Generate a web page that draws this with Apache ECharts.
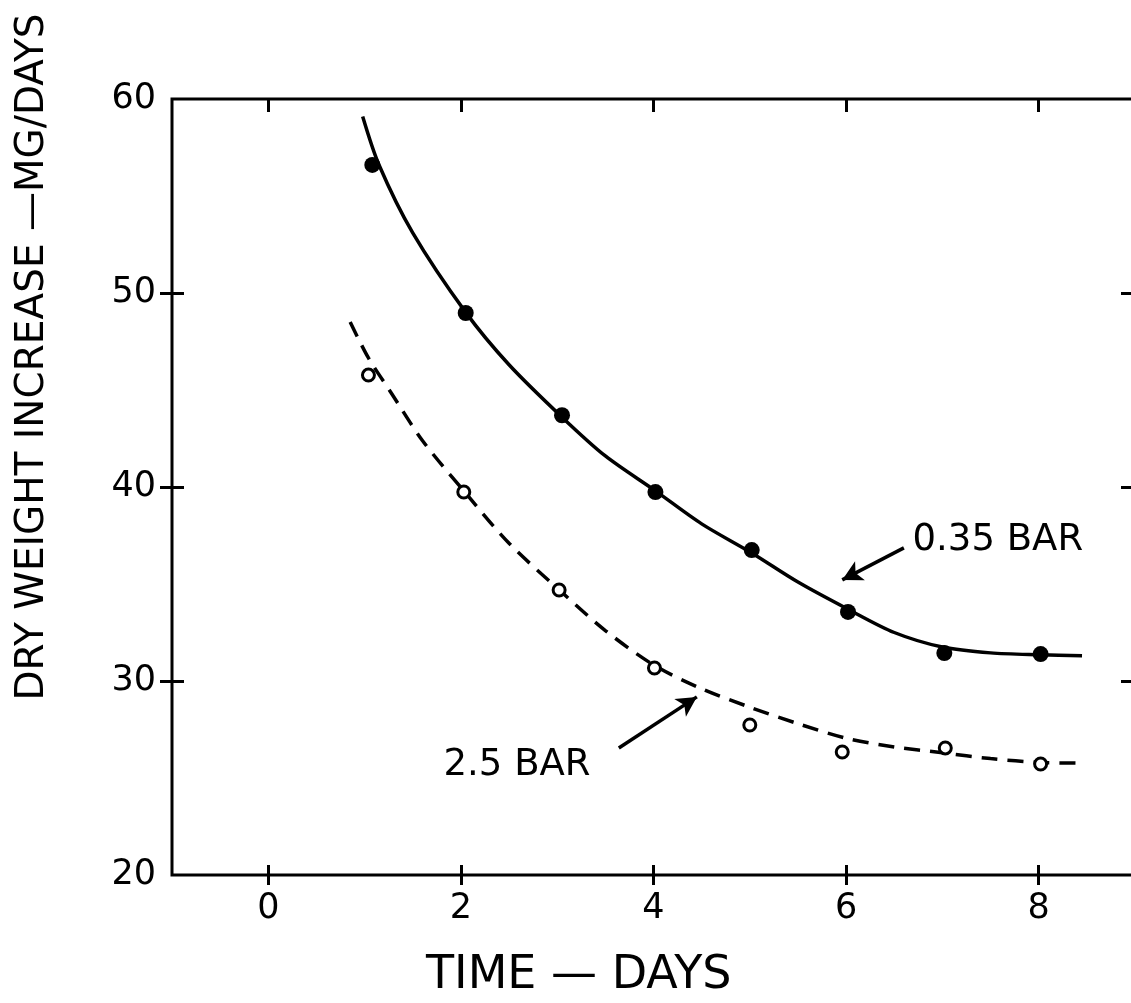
<!DOCTYPE html>
<html>
<head>
<meta charset="utf-8">
<script src="https://cdn.jsdelivr.net/npm/echarts@6/dist/echarts.min.js"></script>
<style>
html,body{margin:0;padding:0;background:#fff;overflow:hidden;}
#c{width:1137px;height:1003px;}
</style>
</head>
<body>
<div id="c"></div>
<script>
// ---- data ----
const xTickValues = [0, 2, 4, 6, 8];
const yTickInner = [30, 40, 50];

// measured points, 0.35 BAR (filled dots)
const lowDays   = [1.08, 2.05, 3.05, 4.02, 5.02, 6.02, 7.02, 8.02];
const lowValues = [56.6, 48.97, 43.7, 39.74, 36.75, 33.56, 31.44, 31.39];

// measured points, 2.5 BAR (open dots)
const highDays   = [1.04, 2.03, 3.02, 4.01, 5.0, 5.96, 7.03, 8.02];
const highValues = [45.77, 39.74, 34.69, 30.67, 27.73, 26.34, 26.55, 25.72];

// fitted curve, 0.35 BAR (solid)
const lowCurveX = [0.98, 1.15, 1.5, 2.05, 2.5, 3.05, 3.5, 4.02, 4.5, 5.02, 5.5, 6.02, 6.5, 7.0, 7.5, 8.02, 8.45];
const lowCurveY = [59.1, 56.6, 53.1, 49.0, 46.3, 43.6, 41.6, 39.8, 38.1, 36.6, 35.1, 33.7, 32.5, 31.75, 31.45, 31.35, 31.3];

// fitted curve, 2.5 BAR (dashed)
const highCurveX = [0.85, 1.04, 1.27, 1.6, 2.03, 2.5, 3.02, 3.5, 4.01, 4.5, 5.0, 5.5, 6.0, 6.5, 7.0, 7.5, 8.02, 8.48];
const highCurveY = [48.5, 46.65, 44.9, 42.4, 39.8, 37.1, 34.7, 32.6, 30.8, 29.6, 28.65, 27.8, 27.05, 26.6, 26.3, 26.0, 25.8, 25.77];

const annotationTexts = ['0.35 BAR', '2.5 BAR'];

// ---- chart ----
const zip = (a, b) => a.map((v, i) => [v, b[i]]);
const FONT = 'DejaVu Sans';
const chart = echarts.init(document.getElementById('c'), null, {renderer: 'canvas'});

const tickStyle = {color: '#000', width: 3};

chart.setOption({
  backgroundColor: '#fff',
  animation: false,
  grid: {left: 172, right: 2, top: 99, bottom: 128, containLabel: false,
         show: true, borderColor: '#000', borderWidth: 3, backgroundColor: 'transparent'},
  xAxis: [
    { // bottom: labels + crossing ticks (axis shifted up by half the tick length)
      type: 'value', position: 'bottom', min: -1, max: 9, offset: -10,
      axisLine: {show: false, onZero: false},
      axisTick: {show: true, inside: false, length: 20, customValues: xTickValues, lineStyle: tickStyle},
      axisLabel: {show: true, customValues: xTickValues, margin: 26, color: '#000', fontFamily: FONT, fontSize: 35},
      splitLine: {show: false}
    },
    { // top, inside ticks
      type: 'value', position: 'top', min: -1, max: 9,
      axisLine: {show: false, onZero: false},
      axisTick: {show: true, inside: true, length: 13, customValues: xTickValues, lineStyle: tickStyle},
      axisLabel: {show: false},
      splitLine: {show: false}
    }
  ],
  yAxis: [
    { // left: labels + crossing ticks
      type: 'value', position: 'left', min: 20, max: 60, interval: 10, offset: -12,
      axisLine: {show: false, onZero: false},
      axisTick: {show: true, inside: false, length: 24, customValues: yTickInner, lineStyle: tickStyle},
      axisLabel: {show: true, margin: 28, color: '#000', fontFamily: FONT, fontSize: 35},
      splitLine: {show: false}
    },
    { // right, inside ticks only
      type: 'value', position: 'right', min: 20, max: 60, interval: 10,
      axisLine: {show: false, onZero: false},
      axisTick: {show: true, inside: true, length: 14, customValues: yTickInner, lineStyle: tickStyle},
      axisLabel: {show: false},
      splitLine: {show: false}
    }
  ],
  graphic: [
    {
      type: 'text', left: 426, top: 953,
      style: {text: 'TIME — DAYS', fill: '#000', font: '46px "DejaVu Sans"'}
    },
    {
      type: 'text', x: 33, y: 357, rotation: Math.PI / 2,
      style: {text: 'DRY WEIGHT INCREASE —MG/DAYS', fill: '#000', font: '39px "DejaVu Sans"',
              textAlign: 'center', textVerticalAlign: 'middle'}
    }
  ],
  series: [
    {
      name: '0.35 BAR curve', type: 'line', xAxisIndex: 0, yAxisIndex: 0,
      data: zip(lowCurveX, lowCurveY), smooth: 0.3, showSymbol: false, symbol: 'none',
      lineStyle: {color: '#000', width: 3.5}, z: 3
    },
    {
      name: '2.5 BAR curve', type: 'line', xAxisIndex: 0, yAxisIndex: 0,
      data: zip(highCurveX, highCurveY), smooth: 0.3, showSymbol: false, symbol: 'none',
      lineStyle: {color: '#000', width: 3.5, type: [16, 10]}, z: 3
    },
    {
      name: '0.35 BAR', type: 'scatter', xAxisIndex: 0, yAxisIndex: 0,
      data: zip(lowDays, lowValues), symbol: 'circle', symbolSize: 16,
      itemStyle: {color: '#000', opacity: 1}, z: 5,
      markLine: {
        silent: true, symbol: ['none', 'arrow'], symbolSize: [16, 20],
        label: {show: false}, lineStyle: {color: '#000', width: 3.5, type: 'solid', opacity: 1},
        data: [[{coord: [6.60, 36.86]}, {coord: [5.96, 35.21]}]]
      },
      markPoint: {
        silent: true, symbol: 'circle', symbolSize: 0,
        label: {show: true, position: 'right', distance: 0, color: '#000', fontFamily: FONT, fontSize: 37,
                formatter: () => annotationTexts[0]},
        data: [{coord: [6.69, 37.27]}]
      }
    },
    {
      name: '2.5 BAR', type: 'scatter', xAxisIndex: 0, yAxisIndex: 0,
      data: zip(highDays, highValues), symbol: 'circle', symbolSize: 12,
      itemStyle: {color: '#fff', borderColor: '#000', borderWidth: 3, opacity: 1}, z: 5,
      markLine: {
        silent: true, symbol: ['none', 'arrow'], symbolSize: [16, 20],
        label: {show: false}, lineStyle: {color: '#000', width: 3.5, type: 'solid', opacity: 1},
        data: [[{coord: [3.64, 26.55]}, {coord: [4.45, 29.18]}]]
      },
      markPoint: {
        silent: true, symbol: 'circle', symbolSize: 0,
        label: {show: true, position: 'right', distance: 0, color: '#000', fontFamily: FONT, fontSize: 37,
                formatter: () => annotationTexts[1]},
        data: [{coord: [1.82, 25.67]}]
      }
    }
  ]
});
</script>
</body>
</html>
